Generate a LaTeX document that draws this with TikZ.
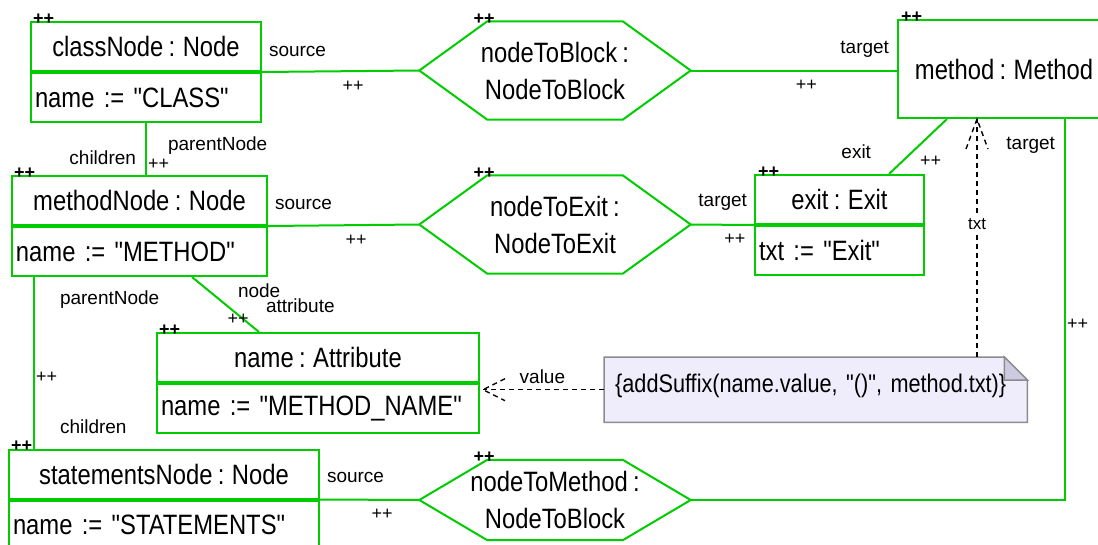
\documentclass[tikz,border=0pt]{standalone}
\usepackage{fontspec}
\setmainfont{Liberation Sans}
\newfontfamily\objfont[FakeStretch=0.85,WordSpace=0.8]{Liberation Sans}
\usetikzlibrary{calc,positioning,backgrounds}

\definecolor{objgreen}{RGB}{0,204,0}
\definecolor{notefill}{RGB}{239,237,252}
\definecolor{noteedge}{RGB}{140,140,140}
\definecolor{notefold}{RGB}{205,203,225}

\begin{document}
\begin{tikzpicture}
          [ x=1pt, y=-1pt,
            objhead/.style={
              rectangle,
              draw=objgreen,
              line width=2pt,
              minimum height=49pt,
              inner sep=0pt,
              font=\objfont\fontsize{28}{37}\selectfont},
            objattr/.style={
              objhead,
              text width=#1,
              align=left,
              inner xsep=4pt},
            hexnode/.style={
              minimum width=271pt,
              minimum height=98pt,
              inner sep=0pt,
              align=center,
              font=\objfont\fontsize{28}{37}\selectfont},
            notebox/.style={
              inner xsep=11pt,
              inner ysep=0pt,
              text width=401pt,
              align=left,
              text height=35pt,
              text depth=30pt,
              font=\objfont\fontsize{25.5}{28}\selectfont},
            link/.style={
              draw=objgreen,
              line width=2pt},
            dep/.style={
              draw=black,
              line width=1.4pt,
              dash pattern=on 5pt off 4pt},
            role/.style={inner sep=0pt, font=\fontsize{19}{22}\selectfont},
            plusmid/.style={inner sep=0pt, pos=.5, anchor=base west, xshift=1pt, yshift=-20pt,
              font=\fontsize{18}{20}\selectfont},
            objplus/.style={inner sep=0pt, anchor=base west,
              font=\fontsize{18}{20}\selectfont\bfseries},
          ]

          \useasboundingbox (0,0) rectangle (1098,544);
          \clip (0,0) rectangle (1098,544);

          \node (classNode) [objhead, minimum width=230pt] at (146,46.5) {classNode : Node};
          \node (classNodeA) [objattr=222pt, below=0pt of classNode] {name := "CLASS"};

          \node (methodNode) [objhead, minimum width=255pt] at (139.5,200.5) {methodNode : Node};
          \node (methodNodeA) [objattr=247pt, below=0pt of methodNode] {name := "METHOD"};

          \node (nameAttr) [objhead, minimum width=322pt] at (318,357.5) {name : Attribute};
          \node (nameAttrA) [objattr=314pt, below=0pt of nameAttr] {name := "METHOD\_NAME"};

          \node (statementsNode) [objhead, minimum width=310pt] at (164,474) {statementsNode : Node};
          \node (statementsNodeA) [objattr=302pt, below=0pt of statementsNode] {name := "STATEMENTS"};

          \node (exit) [objhead, minimum width=169pt] at (839.5,199.5) {exit : Exit};
          \node (exitA) [objattr=161pt, below=0pt of exit] {txt := "Exit"};

          \node (method) [objhead, minimum width=212pt, minimum height=98pt] at (1004,69) {method : Method};

          \node (nodeToBlock) [hexnode] at (555,70.5) {nodeToBlock :\\NodeToBlock};
          \node (nodeToExit) [hexnode] at (555,224.5) {nodeToExit :\\NodeToExit};
          \node (nodeToMethod) [hexnode, minimum height=80pt] at (555,500) {nodeToMethod :\\NodeToBlock};

          \foreach \h in {nodeToBlock,nodeToExit,nodeToMethod}
            \draw[link] (\h.west) -- ($(\h.north west)+(68,0)$) -- ($(\h.north east)+(-68,0)$)
              -- (\h.east) -- ($(\h.south east)+(-68,0)$) -- ($(\h.south west)+(68,0)$) -- cycle;

          \foreach \o/\dx in {classNode/3, methodNode/3, exit/4, nameAttr/3, statementsNode/3,
                              method/4, nodeToBlock/54, nodeToExit/54, nodeToMethod/54}
            \node[objplus] at ($(\o.north west)+(\dx,3)$) {++};

          \node (note) [notebox, anchor=north west] at (604,357) {\{addSuffix(name.value, "()", method.txt)\}};
          \begin{scope}[on background layer]
            \filldraw[fill=notefill, draw=noteedge, line width=1.5pt] (note.north west)
              -- ($(note.north east)+(-23,0)$) -- ($(note.north east)+(0,23)$)
              -- (note.south east) -- (note.south west) -- cycle;
            \filldraw[fill=notefold, draw=noteedge, line width=1.5pt] ($(note.north east)+(-23,0)$)
              -- ($(note.north east)+(-23,23)$) -- ($(note.north east)+(0,23)$) -- cycle;
          \end{scope}

          \draw[link] (classNode.south east)
            -- node[plusmid] {++}
               node[role, pos=0, anchor=base west, xshift=6pt, yshift=16pt] {source}
            (nodeToBlock.west);

          \draw[link] (nodeToBlock.east)
            -- node[plusmid] {++}
               node[role, pos=1, anchor=base east, xshift=-7pt, yshift=17pt] {target}
            (nodeToBlock.east -| method.west);

          \draw[link] (classNodeA.south)
            -- node[plusmid] {++}
               node[role, pos=0, anchor=base west, xshift=21pt, yshift=-27pt] {parentNode}
               node[role, pos=1, anchor=base east, xshift=-9pt, yshift=11pt] {children}
            (classNodeA.south |- methodNode.north);

          \draw[link] (methodNode.south east)
            -- node[plusmid] {++}
               node[role, pos=0, anchor=base west, xshift=6pt, yshift=17pt] {source}
            (nodeToExit.west);

          \draw[link] (nodeToExit.east)
            -- node[plusmid] {++}
               node[role, pos=1, anchor=base east, xshift=-6pt, yshift=19pt] {target}
            (exit.south west);

          \draw[link] ($(exit.north west)+(135,0)$)
            -- node[plusmid] {++}
               node[role, pos=0, anchor=base east, xshift=-17pt, yshift=16pt] {exit}
            ($(method.south west)+(50,0)$);

          \draw[link] ($(methodNodeA.south west)+(181,0)$)
            -- node[plusmid] {++}
               node[role, pos=0, anchor=base west, xshift=45pt, yshift=-20pt] {node}
               node[role, pos=1, anchor=base west, xshift=6pt, yshift=20pt] {attribute}
            ($(nameAttr.north west)+(103,0)$);

          \draw[link] ($(methodNodeA.south west)+(23,0)$)
            -- node[plusmid] {++}
               node[role, pos=0, anchor=base west, xshift=25pt, yshift=-27pt] {parentNode}
               node[role, pos=1, anchor=base west, xshift=25pt, yshift=15pt] {children}
            ($(statementsNode.north west)+(26,0)$);

          \draw[link] (statementsNode.south east)
            -- node[plusmid] {++}
               node[role, pos=0, anchor=base west, xshift=6pt, yshift=17pt] {source}
            (nodeToMethod.west);

          \draw[link] (nodeToMethod.east)
            -| node[plusmid, pos=.75] {++}
               node[role, pos=1, anchor=base east, xshift=-9pt, yshift=-30pt] {target}
            ($(method.south west)+(168,0)$);

          \coordinate (txtStart) at ($(note.north west)+(373,0)$);
          \coordinate (txtEnd) at (txtStart |- method.south);
          \draw[dep] (txtStart)
            -- node[pos=.56, fill=white, inner sep=1.5pt, font=\fontsize{17}{20}\selectfont] {txt}
            (txtEnd);
          \draw[dep] ($(txtEnd)+(-11,30)$) -- (txtEnd) -- ($(txtEnd)+(11,30)$);

          \coordinate (valueEnd) at ($(note.west -| nameAttrA.east)+(3,0)$);
          \draw[dep] (note.west)
            -- node[role, pos=1, anchor=base west, xshift=36pt, yshift=6pt] {value}
            (valueEnd);
          \draw[dep] ($(valueEnd)+(22,-11)$) -- (valueEnd) -- ($(valueEnd)+(22,11)$);

        \end{tikzpicture}
\end{document}
